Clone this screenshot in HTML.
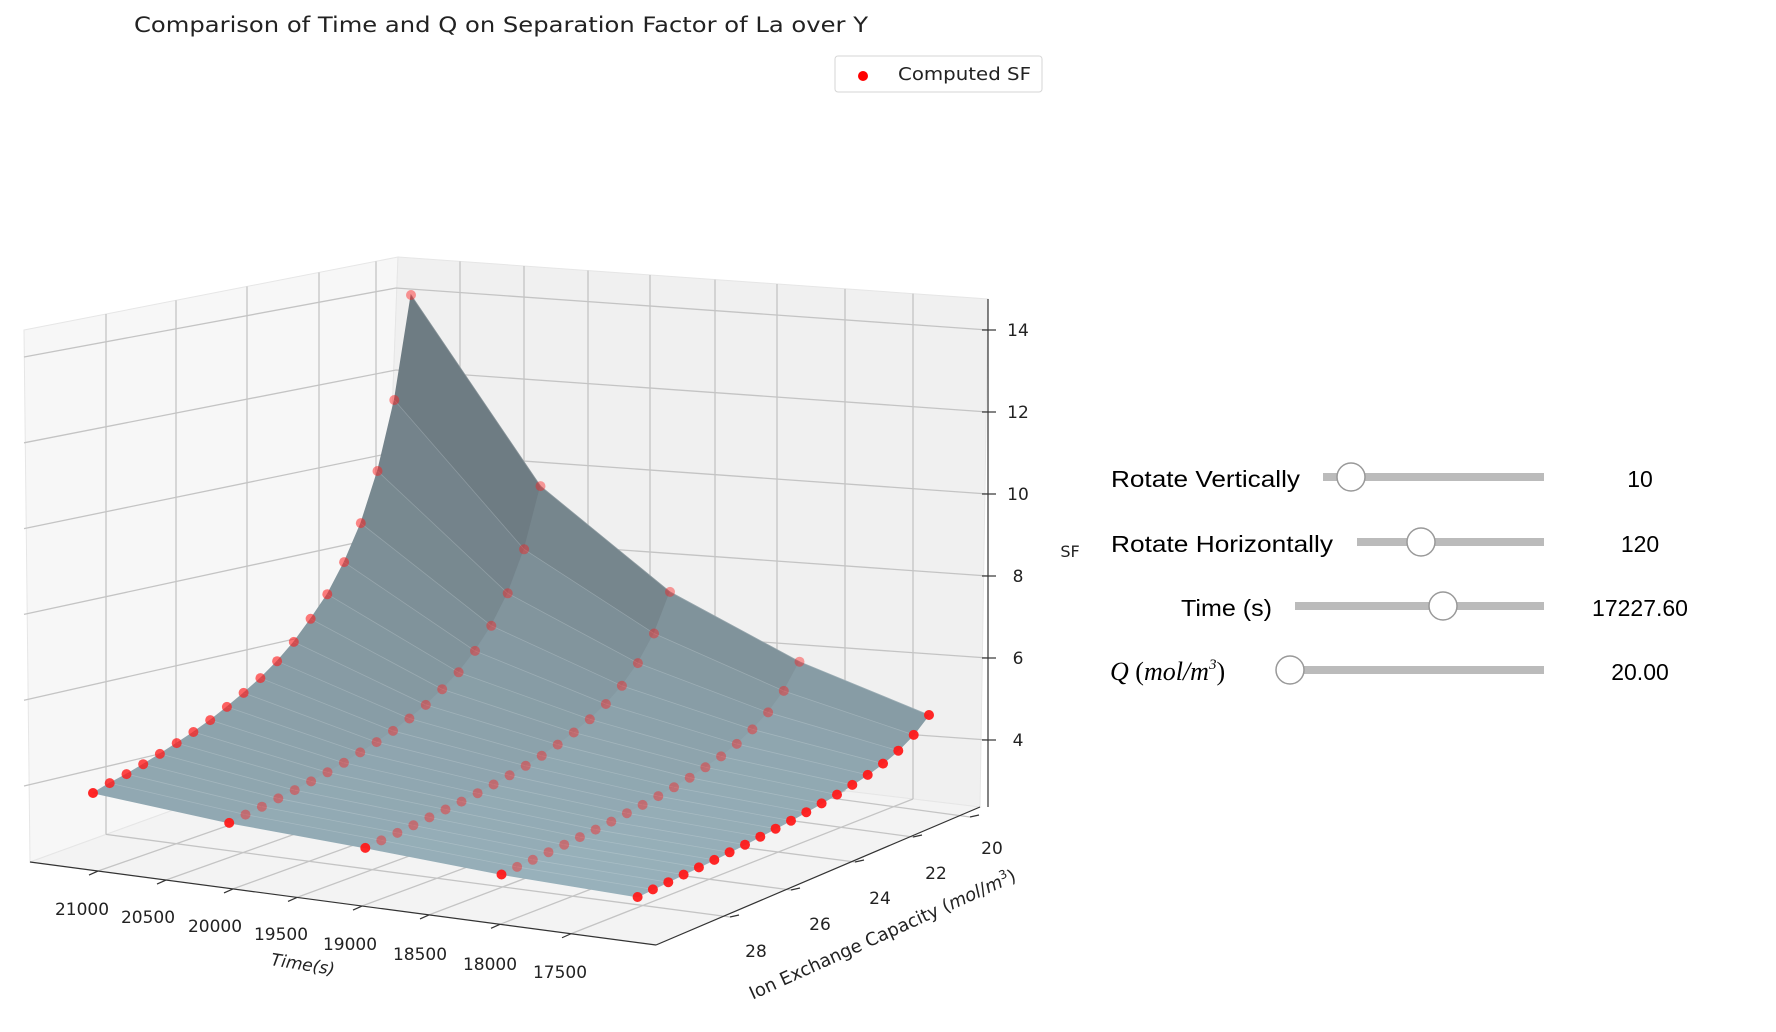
<!DOCTYPE html>
<html><head><meta charset="utf-8">
<style>
html,body{margin:0;padding:0;background:#fff;}
svg{display:block;}
text{font-family:"DejaVu Sans","Liberation Sans",sans-serif;}
</style></head>
<body>
<svg id="chart" width="1776" height="1032" viewBox="0 0 1776 1032" xmlns="http://www.w3.org/2000/svg">
  <rect x="0" y="0" width="1776" height="1032" fill="#ffffff"/>
  <text x="134" y="32" font-size="21" fill="#222" textLength="734" lengthAdjust="spacingAndGlyphs">Comparison of Time and Q on Separation Factor of La over Y</text>
  <g id="panes"></g>
  <g id="grid"></g>
  <g id="axes"></g>
  <g id="surface"></g>
  <g id="points"></g>
  <g>
    <rect x="835" y="56" width="207" height="36" rx="3" fill="#fff" stroke="#d6d6d6"/>
    <circle cx="863" cy="76" r="5" fill="#ff0000"/>
    <text x="898" y="80" font-size="18" fill="#222" textLength="133" lengthAdjust="spacingAndGlyphs">Computed SF</text>
  </g>
  <g style="font-family:'Liberation Sans',Arial,sans-serif">
    <text x="1111" y="487" font-size="23" fill="#000" textLength="189" lengthAdjust="spacingAndGlyphs" style="font-family:'Liberation Sans',sans-serif">Rotate Vertically</text>
    <rect x="1323" y="473" width="221" height="8" fill="#bbbbbb"/>
    <circle cx="1351" cy="477" r="14" fill="#fff" stroke="#999" stroke-width="1.5"/>
    <text x="1640" y="487" font-size="23" text-anchor="middle" fill="#000" style="font-family:'Liberation Sans',sans-serif">10</text>

    <text x="1111" y="552" font-size="23" fill="#000" textLength="222" lengthAdjust="spacingAndGlyphs" style="font-family:'Liberation Sans',sans-serif">Rotate Horizontally</text>
    <rect x="1357" y="538" width="187" height="8" fill="#bbbbbb"/>
    <circle cx="1421" cy="542" r="14" fill="#fff" stroke="#999" stroke-width="1.5"/>
    <text x="1640" y="552" font-size="23" text-anchor="middle" fill="#000" style="font-family:'Liberation Sans',sans-serif">120</text>

    <text x="1181" y="616" font-size="23" fill="#000" textLength="91" lengthAdjust="spacingAndGlyphs" style="font-family:'Liberation Sans',sans-serif">Time (s)</text>
    <rect x="1295" y="602" width="249" height="8" fill="#bbbbbb"/>
    <circle cx="1443" cy="606" r="14" fill="#fff" stroke="#999" stroke-width="1.5"/>
    <text x="1640" y="616" font-size="23" text-anchor="middle" fill="#000" style="font-family:'Liberation Sans',sans-serif">17227.60</text>

    <text x="1110" y="680" font-size="26" fill="#000" font-style="italic" style="font-family:'Liberation Serif',serif">Q <tspan font-style="normal">(</tspan>mol/m<tspan font-size="15" dy="-11">3</tspan><tspan font-style="normal" dy="11">)</tspan></text>
    <rect x="1284" y="666" width="260" height="8" fill="#bbbbbb"/>
    <circle cx="1290" cy="670" r="14" fill="#fff" stroke="#999" stroke-width="1.5"/>
    <text x="1640" y="680" font-size="23" text-anchor="middle" fill="#000" style="font-family:'Liberation Sans',sans-serif">20.00</text>
  </g>
</svg>
<script>
// ---- data ----
const times = [21227.6, 20227.6, 19227.6, 18227.6, 17227.6];
const qVals = [20, 20.5, 21, 21.5, 22, 22.5, 23, 23.5, 24, 24.5, 25, 25.5, 26, 26.5, 27, 27.5, 28, 28.5, 29, 29.5];
const sf_t21227 = [13.8, 11.36, 9.75, 8.6, 7.77, 7.11, 6.63, 6.19, 5.84, 5.55, 5.31, 5.09, 4.89, 4.72, 4.57, 4.43, 4.30, 4.18, 4.08, 3.96];
const sf_t20227 = [9.4, 7.99, 7.05, 6.39, 5.91, 5.52, 5.24, 4.99, 4.79, 4.62, 4.48, 4.36, 4.24, 4.14, 4.05, 3.97, 3.90, 3.83, 3.77, 3.70];
const sf_t19227 = [7.08, 6.21, 5.63, 5.22, 4.92, 4.69, 4.51, 4.36, 4.23, 4.13, 4.04, 3.96, 3.89, 3.83, 3.78, 3.73, 3.68, 3.64, 3.60, 3.56];
const sf_t18227 = [5.64, 5.08, 4.71, 4.45, 4.25, 4.10, 3.99, 3.89, 3.81, 3.75, 3.69, 3.64, 3.59, 3.55, 3.52, 3.49, 3.46, 3.43, 3.41, 3.38];
const sf_t17227 = [4.60, 4.28, 4.06, 3.91, 3.80, 3.72, 3.65, 3.60, 3.55, 3.51, 3.48, 3.45, 3.42, 3.40, 3.38, 3.36, 3.35, 3.33, 3.32, 3.30];
const sfSeries = [sf_t21227, sf_t20227, sf_t19227, sf_t18227, sf_t17227];
const timeTicks = ['21000', '20500', '20000', '19500', '19000', '18500', '18000', '17500'];
const qTicks = ['20', '22', '24', '26', '28'];
const zTicks = [4, 6, 8, 10, 12, 14];

const NS = 'http://www.w3.org/2000/svg';
function mk(tag, attrs, parent) {
  const e = document.createElementNS(NS, tag);
  for (const k in attrs) e.setAttribute(k, attrs[k]);
  parent.appendChild(e);
  return e;
}
// ---- projection (axis functions) ----
const T_MAX = 21227.6, T_MIN = 17227.6, Q_MIN = 20, Q_MAX = 29.5, Z_PX = 41;
const FL = [93, 955.4], BL = [411, 860.8], FR = [637.6, 1032.3], BR = [929, 903.6];
function proj(t, q, z) {
  const u = (T_MAX - t) / (T_MAX - T_MIN);
  const v = (q - Q_MIN) / (Q_MAX - Q_MIN);
  const x = (1-u)*(1-v)*BL[0] + (1-u)*v*FL[0] + u*(1-v)*BR[0] + u*v*FR[0];
  const y = (1-u)*(1-v)*BL[1] + (1-u)*v*FL[1] + u*(1-v)*BR[1] + u*v*FR[1];
  return [x, y - z * Z_PX];
}
function zRight(z) { return 740 - (z - 4) * 41; }
function zBack(z) { return 698 - (z - 4) * 41; }
function zLeft(z) { return 786 - (z - 4) * 42.9; }

// ---- panes ----
const panes = document.getElementById('panes');
let p;
p = mk('polygon', {points: '24,330 398,257 380,735 30,862', fill: '#f7f7f7', stroke: '#e6e6e6'}, panes);


p = mk('polygon', {points: '398,257 988,299 980,807 380,735', fill: '#f0f0f0', stroke: '#e6e6e6'}, panes);


p = mk('polygon', {points: '30,862 380,735 980,807 656,945', fill: '#f3f3f3', stroke: '#e6e6e6'}, panes);



// ---- grid ----
const grid = document.getElementById('grid');
const gs = {stroke: '#c4c4c4', 'stroke-width': 1.3, fill: 'none'};
zTicks.forEach(z => {
  let l = mk('polyline', Object.assign({points: `24,${zLeft(z)} 396,${zBack(z)} 988,${zRight(z)}`}, gs), grid);
  
  
});
const rightX = [460, 524, 588, 650, 715, 777, 845, 913];
const frontX = [98, 166, 233, 297, 362, 429, 500, 571];
timeTicks.forEach((lab, i) => {
  const x = rightX[i];
  const yt = 257 + (x - 398) * 0.0712, yb = 735 + (x - 380) * 0.12;
  let l = mk('line', Object.assign({x1: x, y1: yt, x2: x, y2: yb}, gs), grid);
  
  
  const xf = frontX[i], yf = 862 + (xf - 30) * 0.1326;
  l = mk('line', Object.assign({x1: xf, y1: yf, x2: x, y2: yb}, gs), grid);
  
  
});
const leftX = [376, 319, 247, 176, 106];
const qFront = [[970, 817], [913, 837], [855, 862], [791, 890], [730, 917]];
qTicks.forEach((lab, i) => {
  const x = leftX[i];
  const yt = 330 - (x - 24) * 0.195, yb = 862 - (x - 30) * 0.363;
  let l = mk('line', Object.assign({x1: x, y1: yt, x2: x, y2: yb}, gs), grid);
  
  
  l = mk('line', Object.assign({x1: qFront[i][0], y1: qFront[i][1], x2: x, y2: yb}, gs), grid);
  
  
});

// ---- axes ----
const axes = document.getElementById('axes');
const as = {stroke: '#333', 'stroke-width': 1.2, fill: 'none'};
let a = mk('line', Object.assign({x1: 30, y1: 862, x2: 656, y2: 945}, as), axes);


a = mk('line', Object.assign({x1: 656, y1: 945, x2: 980, y2: 807}, as), axes);


a = mk('line', Object.assign({x1: 988, y1: 299, x2: 988, y2: 807}, as), axes);


const timeLabelPos = [[82, 915], [148, 923], [215, 932], [281, 940], [350, 950], [420, 960], [490, 970], [560, 978]];
timeTicks.forEach((lab, i) => {
  const xf = frontX[i], yf = 862 + (xf - 30) * 0.1326;
  let tk = mk('line', Object.assign({x1: xf, y1: yf, x2: xf - 9, y2: yf + 4}, as), axes);
  
  
  let tx = mk('text', {x: timeLabelPos[i][0], y: timeLabelPos[i][1], 'font-size': 17, 'text-anchor': 'middle', fill: '#222'}, axes);
  tx.textContent = lab;
  
  
});
let tl = mk('text', {x: 302, y: 970, 'font-size': 17, 'font-style': 'italic', 'text-anchor': 'middle', fill: '#222', transform: 'rotate(9 302 970)'}, axes);
tl.textContent = 'Time(s)';


const qLabelPos = [[992, 854], [936, 879], [880, 904], [820, 930], [756, 957]];
qTicks.forEach((lab, i) => {
  let tk = mk('line', Object.assign({x1: qFront[i][0], y1: qFront[i][1], x2: qFront[i][0] + 9, y2: qFront[i][1] - 2}, as), axes);
  
  
  let tx = mk('text', {x: qLabelPos[i][0], y: qLabelPos[i][1], 'font-size': 17, 'text-anchor': 'middle', fill: '#222'}, axes);
  tx.textContent = lab;
  
  
});
let ql = mk('text', {x: 885, y: 940, 'font-size': 18, 'text-anchor': 'middle', fill: '#222', transform: 'rotate(-24.3 885 940)'}, axes);
ql.innerHTML = 'Ion Exchange Capacity (<tspan font-style="italic">mol</tspan>/<tspan font-style="italic">m</tspan><tspan font-size="12" dy="-7">3</tspan><tspan dy="7">)</tspan>';


zTicks.forEach(z => {
  const y = zRight(z);
  let tk = mk('line', Object.assign({x1: 982, y1: y, x2: 996, y2: y}, as), axes);
  
  
  let tx = mk('text', {x: 1018, y: y + 6, 'font-size': 17, 'text-anchor': 'middle', fill: '#222'}, axes);
  tx.textContent = String(z);
  
  
});
let zl = mk('text', {x: 1070, y: 557, 'font-size': 16, 'text-anchor': 'middle', fill: '#222'}, axes);
zl.textContent = 'SF';



// ---- surface ----
const surf = document.getElementById('surface');
const quads = [];
for (let i = 0; i < times.length - 1; i++) {
  for (let j = 0; j < qVals.length - 1; j++) {
    const zs = [sfSeries[i][j], sfSeries[i+1][j], sfSeries[i+1][j+1], sfSeries[i][j+1]];
    const pts = [proj(times[i], qVals[j], zs[0]), proj(times[i+1], qVals[j], zs[1]),
                 proj(times[i+1], qVals[j+1], zs[2]), proj(times[i], qVals[j+1], zs[3])];
    const depth = (i + 0.5) / (times.length - 1) + (j + 0.5) / (qVals.length - 1);
    const slope = Math.abs((zs[0] + zs[1]) - (zs[2] + zs[3])) / 2;
    const zavg = (zs[0] + zs[1] + zs[2] + zs[3]) / 4;
    quads.push({pts, depth, slope, zavg});
  }
}
quads.sort((a, b) => a.depth - b.depth);
quads.forEach(qd => {
  let f = Math.min(1, Math.max(0, (qd.zavg - 3.3) / 4.5));
  f = Math.min(1, 0.55 * Math.sqrt(f) + qd.slope * 0.25);
  const r = Math.round(155 - 45 * f), g = Math.round(181 - 57 * f), b = Math.round(191 - 60 * f);
  const col = `rgb(${r},${g},${b})`;
  const pg = mk('polygon', {points: qd.pts.map(p => p[0].toFixed(1) + ',' + p[1].toFixed(1)).join(' '), fill: col, stroke: col, 'stroke-width': 0.8}, surf);
  
  
  const ln = mk('line', {x1: qd.pts[0][0], y1: qd.pts[0][1], x2: qd.pts[1][0], y2: qd.pts[1][1], stroke: 'rgba(255,255,255,0.18)', 'stroke-width': 0.8}, surf);
  
  
});

// ---- points ----
const ptsG = document.getElementById('points');
for (let i = 0; i < times.length; i++) {
  for (let j = 0; j < qVals.length; j++) {
    const pp = proj(times[i], qVals[j], sfSeries[i][j]);
    const v = j / (qVals.length - 1);
    let op;
    if (j === qVals.length - 1 || i === times.length - 1) op = 0.95;
    else if (i === 0) op = 0.45 + 0.4 * v;
    else op = 0.42;
    const c = mk('circle', {cx: pp[0].toFixed(1), cy: pp[1].toFixed(1), r: 5, fill: '#ff1a1a', 'fill-opacity': op}, ptsG);
    
    
  }
}
</script>
</body></html>
